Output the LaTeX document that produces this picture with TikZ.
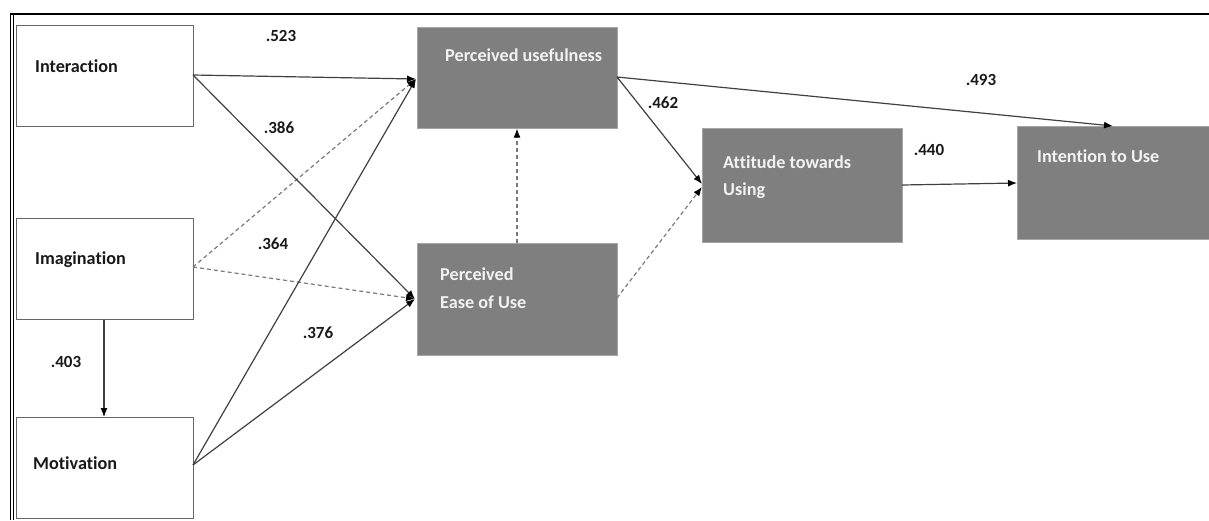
\documentclass[tikz,border=0pt]{standalone}
\usepackage{fontspec}
\setmainfont{Carlito}[Ligatures={NoCommon}]
\usetikzlibrary{arrows.meta}
\definecolor{boxgray}{HTML}{7F7F7F}
\definecolor{linegray}{HTML}{404040}
\definecolor{dashgray}{HTML}{7A7A7A}
\definecolor{gtext}{HTML}{F2F2F2}
\begin{document}
\begin{tikzpicture}[x=1pt,y=-1pt,
  wbox/.style={draw=black!60,line width=1.3pt,fill=white,anchor=north west,inner sep=0pt,minimum width=177pt,minimum height=101pt},
  gbox/.style={draw=black!35,line width=0.6pt,fill=boxgray,anchor=north west,inner sep=0pt,minimum width=200pt},
  btxt/.style={font=\fontsize{18.2}{21}\selectfont\bfseries,anchor=base west,inner sep=0pt,text=black!90},
  gtxt/.style={font=\fontsize{18.2}{21}\selectfont\bfseries,anchor=base west,inner sep=0pt,text=gtext},
  num/.style={font=\fontsize{17}{20}\selectfont\bfseries,anchor=center,inner sep=0pt,text=black!90},
  conn/.style={draw=linegray,line width=1.2pt,-{Latex[length=9pt,width=7pt,fill=black,color=black]}},
  dconn/.style={draw=dashgray,line width=1.2pt,dash pattern=on 4pt off 3pt,-{Latex[length=9pt,width=7pt,fill=black,color=black]}}]
\useasboundingbox (0,0) rectangle (1209,520);
% frame
\draw[line width=2.5pt] (10,14) -- (1209,14);
\draw[line width=1pt] (10.5,13) -- (10.5,520);
\draw[line width=1pt] (13,14) -- (13,520);
% white boxes
\node[wbox] (inter) at (16,25) {};
\node[wbox] (imag) at (16,218) {};
\node[wbox] (motiv) at (16,417) {};
\node[btxt] at (35,72) {Interaction};
\node[btxt] at (35,264) {Imagination};
\node[btxt] at (33,469) {Motivation};
% gray boxes
\node[gbox,minimum height=101pt] (pu) at (417,27) {};
\node[gbox,minimum height=112pt] (peou) at (417,243) {};
\node[gbox,minimum height=114pt] (att) at (702,128) {};
\node[gbox,minimum width=200pt,minimum height=113pt] (int) at (1017,126) {};
\node[gtxt] at (445,61) {Perceived usefulness};
\node[gtxt] at (440,280) {Perceived};
\node[gtxt] at (440,308) {Ease of Use};
\node[gtxt] at (723,168) {Attitude towards};
\node[gtxt] at (723,195) {Using};
\node[gtxt] at (1037,162) {Intention to Use};
% anchors
\coordinate (interE) at (193,75);
\coordinate (imagE) at (193,267);
\coordinate (motivE) at (193,465);
\coordinate (puW) at (416,79);
\coordinate (peouW) at (415,299);
\coordinate (puE) at (617,77);
\coordinate (peouE) at (617,298);
\coordinate (attW) at (702,184);
\coordinate (attW2) at (702,187);
\coordinate (attE) at (902,185);
\coordinate (intW) at (1017,183);
\coordinate (intN) at (1113,126);
% connectors
\draw[dconn] (imagE) -- (puW);
\draw[dconn] (imagE) -- (peouW);
\draw[conn] (interE) -- (puW);
\draw[conn] (interE) -- (peouW);
\draw[conn] (motivE) -- (puW);
\draw[conn] (motivE) -- (peouW);
\draw[conn] (imag.south -| 104,0) -- (motiv.north -| 104,0);
\draw[dconn] (peou.north -| 517,0) -- (pu.south -| 517,0);
\draw[conn] (puE) -- (attW);
\draw[dconn] (peouE) -- (attW2);
\draw[conn] (puE) -- (intN);
\draw[conn] (attE) -- (intW);
% labels
\node[num] at (281,36) {.523};
\node[num] at (279,128) {.386};
\node[num] at (273,244) {.364};
\node[num] at (318,333) {.376};
\node[num] at (66,362) {.403};
\node[num] at (663,103) {.462};
\node[num] at (981,80) {.493};
\node[num] at (929,150) {.440};
\end{tikzpicture}
\end{document}
